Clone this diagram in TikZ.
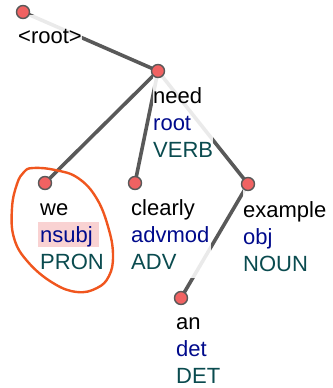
\documentclass[tikz,border=0pt]{standalone}
\usepackage{fontspec}
\setmainfont{Liberation Sans}
\usetikzlibrary{calc}
\definecolor{tokfill}{HTML}{F06262}
\definecolor{edgegray}{HTML}{595959}
\definecolor{deprel}{HTML}{000A8C}
\definecolor{postag}{HTML}{0A4B4F}
\definecolor{hilite}{HTML}{F9D2D2}
\definecolor{loopred}{HTML}{F0561E}
\pgfdeclarelayer{edges}
\pgfdeclarelayer{labels}
\pgfsetlayers{edges,labels,main}
\newcommand{\tokline}[3]{\rule{0pt}{30pt}#1\\\textcolor{deprel}{#2}\\\textcolor{postag}{#3}\rule[-9pt]{0pt}{9pt}}
\begin{document}
\begin{tikzpicture}[x=1pt,y=-1pt,
  tok/.style={circle,draw=edgegray,line width=1.4pt,fill=tokfill,minimum size=13pt,inner sep=0pt},
  arc/.style={draw=edgegray,line width=3.6pt},
  lbl/.style={anchor=north west,inner sep=0pt,align=left,fill=white,fill opacity=0.88,text opacity=1,
    font=\fontsize{22}{27}\selectfont},
  loopline/.style={draw=loopred,line width=2.4pt}]
\useasboundingbox (0,0) rectangle (332,388);
% tokens
\node[tok] (root) at (23,12) {};
\node[tok] (need) at (158,71) {};
\node[tok] (we) at (45,183) {};
\node[tok] (clearly) at (135,183) {};
\node[tok] (example) at (248,184) {};
\node[tok] (an) at (181,298) {};
% dependency arcs
\begin{pgfonlayer}{edges}
\draw[arc] (root.center) -- (need.center);
\draw[arc] (need.center) -- (we.center);
\draw[arc] (need.center) -- (clearly.center);
\draw[arc] (need.center) -- (example.center);
\draw[arc] (example.center) -- (an.center);
\end{pgfonlayer}
% token labels
\begin{pgfonlayer}{labels}
\node[lbl] (rootL) at ($(root)+(-5,3)$) {\rule{0pt}{28pt}<root>};
\node[lbl] (needL) at ($(need)+(-5,2)$) {\tokline{need}{root}{VERB}};
\node[lbl] (weL) at ($(we)+(-5,2)$) {\rule{0pt}{30pt}we\\\makebox[0pt][l]{\hspace*{-2pt}\textcolor{hilite}{\rule[-5pt]{61pt}{25pt}}}\textcolor{deprel}{nsubj}\\\textcolor{postag}{PRON}\rule[-9pt]{0pt}{9pt}};
\node[lbl,text width=80pt] (clearlyL) at ($(clearly)+(-4,2)$) {\tokline{clearly}{advmod}{ADV}};
\node[lbl] (exampleL) at ($(example)+(-5,3)$) {\tokline{example}{obj}{NOUN}};
\node[lbl] (anL) at ($(an)+(-5,1)$) {\tokline{an}{det}{DET}};
\end{pgfonlayer}
% hand-drawn loop round the subject
\draw[loopline] plot[smooth cycle,tension=0.7] coordinates {
  (33,168) (55,170) (78,178) (97,199) (109,230) (113,256) (109,276)
  (97,288) (77,292) (53,283) (28,262) (14,238) (12,208) (17,184) (24,172)};
\end{tikzpicture}
\end{document}
